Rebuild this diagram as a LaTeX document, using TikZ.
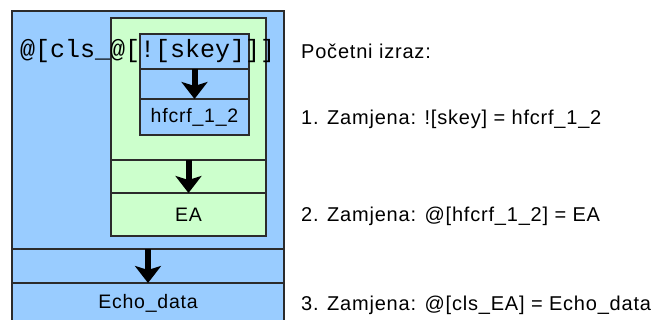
\documentclass[tikz,border=0pt]{standalone}
\usepackage{fontspec}
\setmainfont{Liberation Sans}
\newfontfamily\codefont{Liberation Mono}
\newfontfamily\notefont[LetterSpace=4]{Liberation Sans}
\usetikzlibrary{arrows.meta, positioning}

\definecolor{cellblue}{HTML}{99CCFF}
\definecolor{cellgreen}{HTML}{CCFFCC}
\definecolor{cellline}{HTML}{2B2B2B}

\begin{document}
\begin{tikzpicture}[x=1pt, y=-1pt,
    cell/.style={draw=cellline, line width=1.2pt, inner sep=0pt, outer sep=0pt,
        minimum width=#1, font=\notefont\fontsize{19.5}{23}\selectfont},
    bluecell/.style={cell=#1, fill=cellblue},
    greencell/.style={cell=#1, fill=cellgreen},
    note/.style={anchor=base west, inner sep=0pt, font=\notefont\fontsize{20}{24}\selectfont},
    flow/.style={line width=6pt, -{Stealth[length=17pt, width=26pt, inset=4pt]}}]

    \clip (0,0) rectangle (652,320);

    % outer level: @[cls_...]
    \node[bluecell=272pt, minimum height=330pt, anchor=north west] (outer) at (12,11) {};
    \node[bluecell=272pt, minimum height=34pt, anchor=north west] (outerstep) at (12,249) {};
    \node[bluecell=272pt, minimum height=40pt, below=0pt of outerstep] (echo) {Echo\_data};

    % middle level: @[...]
    \node[greencell=155pt, minimum height=218pt, anchor=north west] (middle) at (111,18) {};
    \node[greencell=155pt, minimum height=33pt, anchor=north west] (greenstep) at (111,160) {};
    \node[greencell=155pt, minimum height=43pt, below=0pt of greenstep] (ea) {EA};

    % inner level: ![skey]
    \node[bluecell=109pt, minimum height=35pt, anchor=north west] (innertop) at (140,34) {};
    \node[bluecell=109pt, minimum height=30pt, below=0pt of innertop] (innerstep) {};
    \node[bluecell=109pt, minimum height=36pt, below=0pt of innerstep] (hfcrf) {hfcrf\_1\_2};

    % the whole expression over the boxes
    \node[anchor=base west, inner sep=0pt, font=\codefont\fontsize{25}{30}\selectfont]
        (expr) at (20,58) {@[cls\_@[![skey]]]};

    % substitution arrows
    \draw[flow] (innerstep.north) -- (hfcrf.north);
    \draw[flow] (greenstep.north) -- (ea.north);
    \draw[flow] (outerstep.north) -- (echo.north);

    % notes on the right
    \node[note] (start) at (301,59) {Početni izraz:};
    \node[note] (step1) at (301,125) {1. Zamjena: ![skey] = hfcrf\_1\_2};
    \node[note] (step2) at (301,221) {2. Zamjena: @[hfcrf\_1\_2] = EA};
    \node[note] (step3) at (301,310) {3. Zamjena: @[cls\_EA] = Echo\_data};
\end{tikzpicture}
\end{document}
